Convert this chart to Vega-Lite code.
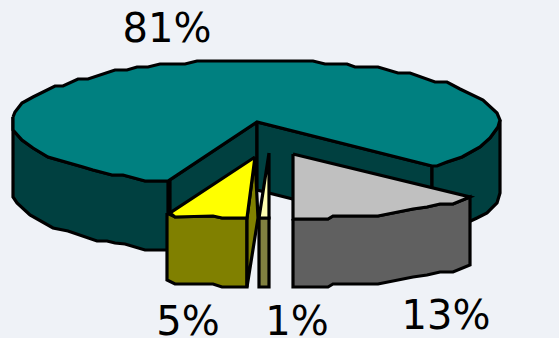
{
  "$schema": "https://vega.github.io/schema/vega-lite/v6.json",
  "width": 559,
  "height": 338,
  "padding": 0,
  "autosize": {"type": "none"},
  "background": "#eff2f7",
  "config": {"view": {"stroke": null}},
  "datasets": {
    "faces": [
      {"part":"wallLeft","i":0,"x":13,"y":117},{"part":"wallLeft","i":1,"x":13,"y":130},{"part":"wallLeft","i":2,"x":22,"y":140},{"part":"wallLeft","i":3,"x":33,"y":148},{"part":"wallLeft","i":4,"x":48,"y":157},{"part":"wallLeft","i":5,"x":83,"y":167},{"part":"wallLeft","i":6,"x":93,"y":170},{"part":"wallLeft","i":7,"x":112,"y":175},{"part":"wallLeft","i":8,"x":123,"y":175},{"part":"wallLeft","i":9,"x":145,"y":181},{"part":"wallLeft","i":10,"x":168,"y":181},{"part":"wallLeft","i":11,"x":168,"y":250},{"part":"wallLeft","i":12,"x":145,"y":250},{"part":"wallLeft","i":13,"x":125,"y":244},{"part":"wallLeft","i":14,"x":115,"y":243},{"part":"wallLeft","i":15,"x":107,"y":241},{"part":"wallLeft","i":16,"x":97,"y":241},{"part":"wallLeft","i":17,"x":68,"y":231},{"part":"wallLeft","i":18,"x":53,"y":228},{"part":"wallLeft","i":19,"x":30,"y":215},{"part":"wallLeft","i":20,"x":17,"y":203},{"part":"wallLeft","i":21,"x":13,"y":197},{"part":"wallLeft","i":22,"x":13,"y":117},
      {"part":"wallCutLeft","i":0,"x":170,"y":180},{"part":"wallCutLeft","i":1,"x":257,"y":122},{"part":"wallCutLeft","i":2,"x":257,"y":190},{"part":"wallCutLeft","i":3,"x":170,"y":248},{"part":"wallCutLeft","i":4,"x":170,"y":180},
      {"part":"wallCutRight","i":0,"x":257,"y":122},{"part":"wallCutRight","i":1,"x":432,"y":166},{"part":"wallCutRight","i":2,"x":432,"y":234},{"part":"wallCutRight","i":3,"x":257,"y":190},{"part":"wallCutRight","i":4,"x":257,"y":122},
      {"part":"wallRight","i":0,"x":432,"y":166},{"part":"wallRight","i":1,"x":447,"y":162},{"part":"wallRight","i":2,"x":462,"y":157},{"part":"wallRight","i":3,"x":480,"y":147},{"part":"wallRight","i":4,"x":490,"y":138},{"part":"wallRight","i":5,"x":498,"y":127},{"part":"wallRight","i":6,"x":500,"y":120},{"part":"wallRight","i":7,"x":500,"y":193},{"part":"wallRight","i":8,"x":497,"y":203},{"part":"wallRight","i":9,"x":487,"y":213},{"part":"wallRight","i":10,"x":477,"y":218},{"part":"wallRight","i":11,"x":462,"y":225},{"part":"wallRight","i":12,"x":447,"y":230},{"part":"wallRight","i":13,"x":432,"y":234},{"part":"wallRight","i":14,"x":432,"y":166},
      {"part":"top81","i":0,"x":13,"y":117},{"part":"top81","i":1,"x":15,"y":112},{"part":"top81","i":2,"x":22,"y":103},{"part":"top81","i":3,"x":33,"y":97},{"part":"top81","i":4,"x":55,"y":86},{"part":"top81","i":5,"x":63,"y":86},{"part":"top81","i":6,"x":78,"y":79},{"part":"top81","i":7,"x":88,"y":79},{"part":"top81","i":8,"x":115,"y":70},{"part":"top81","i":9,"x":127,"y":70},{"part":"top81","i":10,"x":137,"y":67},{"part":"top81","i":11,"x":148,"y":67},{"part":"top81","i":12,"x":160,"y":64},{"part":"top81","i":13,"x":185,"y":64},{"part":"top81","i":14,"x":197,"y":61},{"part":"top81","i":15,"x":313,"y":61},{"part":"top81","i":16,"x":325,"y":64},{"part":"top81","i":17,"x":347,"y":64},{"part":"top81","i":18,"x":355,"y":67},{"part":"top81","i":19,"x":378,"y":67},{"part":"top81","i":20,"x":398,"y":73},{"part":"top81","i":21,"x":410,"y":73},{"part":"top81","i":22,"x":435,"y":82},{"part":"top81","i":23,"x":447,"y":82},{"part":"top81","i":24,"x":460,"y":89},{"part":"top81","i":25,"x":483,"y":100},{"part":"top81","i":26,"x":497,"y":113},{"part":"top81","i":27,"x":500,"y":120},{"part":"top81","i":28,"x":498,"y":127},{"part":"top81","i":29,"x":490,"y":138},{"part":"top81","i":30,"x":480,"y":147},{"part":"top81","i":31,"x":462,"y":157},{"part":"top81","i":32,"x":447,"y":162},{"part":"top81","i":33,"x":437,"y":166},{"part":"top81","i":34,"x":432,"y":166},{"part":"top81","i":35,"x":257,"y":122},{"part":"top81","i":36,"x":168,"y":181},{"part":"top81","i":37,"x":145,"y":181},{"part":"top81","i":38,"x":123,"y":175},{"part":"top81","i":39,"x":112,"y":175},{"part":"top81","i":40,"x":93,"y":170},{"part":"top81","i":41,"x":83,"y":167},{"part":"top81","i":42,"x":48,"y":157},{"part":"top81","i":43,"x":33,"y":148},{"part":"top81","i":44,"x":22,"y":140},{"part":"top81","i":45,"x":13,"y":130},{"part":"top81","i":46,"x":13,"y":117},
      {"part":"front5","i":0,"x":167,"y":213},{"part":"front5","i":1,"x":175,"y":217},{"part":"front5","i":2,"x":213,"y":216},{"part":"front5","i":3,"x":222,"y":218},{"part":"front5","i":4,"x":247,"y":218},{"part":"front5","i":5,"x":247,"y":287},{"part":"front5","i":6,"x":222,"y":287},{"part":"front5","i":7,"x":213,"y":284},{"part":"front5","i":8,"x":175,"y":284},{"part":"front5","i":9,"x":167,"y":280},{"part":"front5","i":10,"x":167,"y":213},
      {"part":"inner5","i":0,"x":255,"y":157},{"part":"inner5","i":1,"x":258,"y":218},{"part":"inner5","i":2,"x":247,"y":287},{"part":"inner5","i":3,"x":247,"y":218},{"part":"inner5","i":4,"x":255,"y":157},
      {"part":"top5","i":0,"x":255,"y":157},{"part":"top5","i":1,"x":170,"y":213},{"part":"top5","i":2,"x":175,"y":217},{"part":"top5","i":3,"x":213,"y":216},{"part":"top5","i":4,"x":222,"y":218},{"part":"top5","i":5,"x":247,"y":218},{"part":"top5","i":6,"x":255,"y":157},
      {"part":"front1","i":0,"x":259,"y":218},{"part":"front1","i":1,"x":269,"y":218},{"part":"front1","i":2,"x":269,"y":287},{"part":"front1","i":3,"x":259,"y":287},{"part":"front1","i":4,"x":259,"y":218},
      {"part":"top1","i":0,"x":269,"y":153},{"part":"top1","i":1,"x":259,"y":218},{"part":"top1","i":2,"x":269,"y":218},{"part":"top1","i":3,"x":269,"y":153},
      {"part":"front13","i":0,"x":293,"y":219},{"part":"front13","i":1,"x":328,"y":219},{"part":"front13","i":2,"x":333,"y":216},{"part":"front13","i":3,"x":378,"y":216},{"part":"front13","i":4,"x":413,"y":209},{"part":"front13","i":5,"x":427,"y":207},{"part":"front13","i":6,"x":440,"y":204},{"part":"front13","i":7,"x":453,"y":204},{"part":"front13","i":8,"x":470,"y":197},{"part":"front13","i":9,"x":470,"y":265},{"part":"front13","i":10,"x":453,"y":272},{"part":"front13","i":11,"x":440,"y":272},{"part":"front13","i":12,"x":427,"y":275},{"part":"front13","i":13,"x":413,"y":277},{"part":"front13","i":14,"x":378,"y":284},{"part":"front13","i":15,"x":333,"y":284},{"part":"front13","i":16,"x":328,"y":287},{"part":"front13","i":17,"x":293,"y":287},{"part":"front13","i":18,"x":293,"y":219},
      {"part":"top13","i":0,"x":293,"y":154},{"part":"top13","i":1,"x":470,"y":197},{"part":"top13","i":2,"x":453,"y":204},{"part":"top13","i":3,"x":440,"y":204},{"part":"top13","i":4,"x":427,"y":207},{"part":"top13","i":5,"x":413,"y":209},{"part":"top13","i":6,"x":378,"y":216},{"part":"top13","i":7,"x":333,"y":216},{"part":"top13","i":8,"x":328,"y":219},{"part":"top13","i":9,"x":293,"y":219},{"part":"top13","i":10,"x":293,"y":154}
    ],
    "shares": [
      {"label":"81%","x":167,"y":42},
      {"label":"5%","x":188,"y":335},
      {"label":"1%","x":297,"y":335},
      {"label":"13%","x":446,"y":329}
    ]
  },
  "layer": [
    {
      "data": {"name": "faces"},
      "mark": {"type": "line", "filled": true, "stroke": "#000000", "strokeWidth": 3.2, "strokeJoin": "miter", "interpolate": "linear", "clip": false},
      "encoding": {
        "x": {"field": "x", "type": "quantitative", "scale": {"domain": [0, 559], "nice": false, "zero": false}, "axis": null},
        "y": {"field": "y", "type": "quantitative", "scale": {"domain": [338, 0], "nice": false, "zero": false}, "axis": null},
        "order": {"field": "i", "type": "quantitative"},
        "fill": {
          "field": "part",
          "type": "nominal",
          "legend": null,
          "scale": {
            "domain": ["wallLeft","wallCutLeft","wallCutRight","wallRight","top81","front5","inner5","top5","front1","top1","front13","top13"],
            "range": ["#004040","#004040","#004040","#004040","#008080","#808000","#808000","#ffff00","#808040","#ffffb0","#606060","#c0c0c0"]
          }
        }
      }
    },
    {
      "data": {"name": "shares"},
      "mark": {"type": "text", "font": "DejaVu Sans", "fontSize": 40, "fontWeight": "normal", "align": "center", "baseline": "alphabetic", "fill": "#000000"},
      "encoding": {
        "x": {"field": "x", "type": "quantitative", "scale": {"domain": [0, 559], "nice": false, "zero": false}, "axis": null},
        "y": {"field": "y", "type": "quantitative", "scale": {"domain": [338, 0], "nice": false, "zero": false}, "axis": null},
        "text": {"field": "label", "type": "nominal"}
      }
    }
  ]
}
